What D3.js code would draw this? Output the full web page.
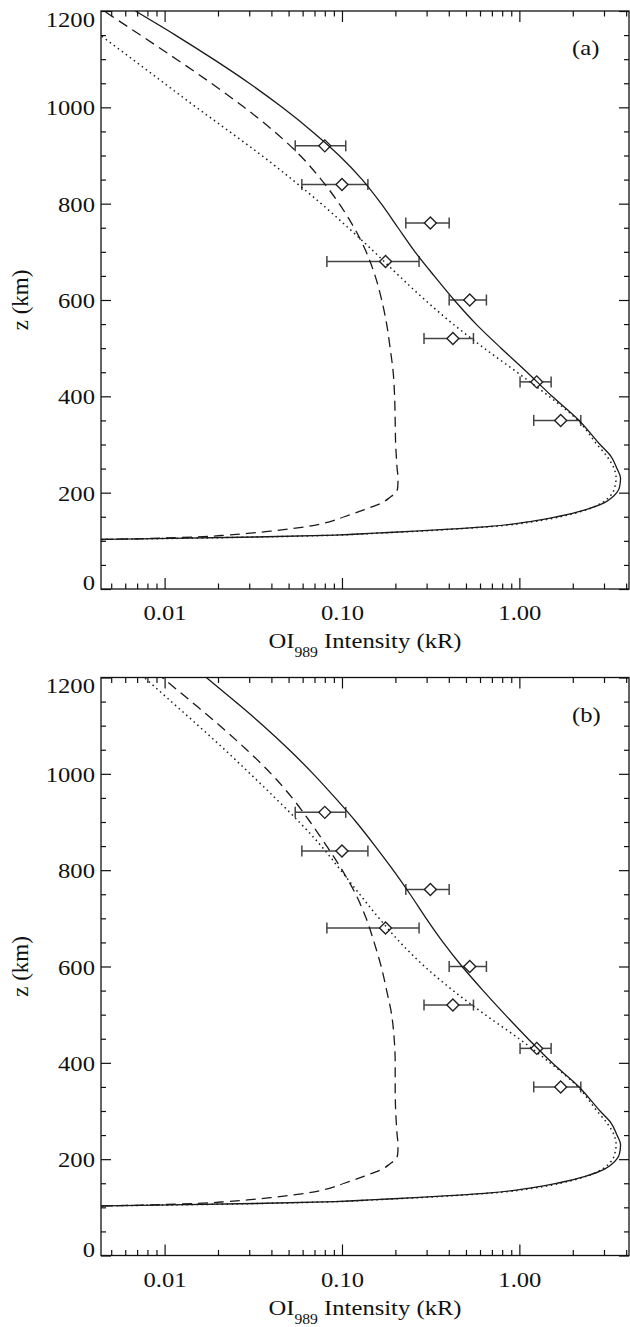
<!DOCTYPE html>
<html>
<head>
<meta charset="utf-8">
<script src="https://cdn.jsdelivr.net/npm/d3@7"></script>
<style>
  body { margin: 0; background: #fff; }
  svg { display: block; }
</style>
</head>
<body>
<svg id="chart" width="630" height="1327"></svg>
<script>
// Altitude grid (km) shared by all model profiles
const altitudes = [102, 103, 105, 108, 112, 116, 120, 125, 130, 140, 150,
  165, 180, 190, 200, 210, 230, 250, 275, 300, 350,
  400, 450, 500, 550, 600, 650, 700, 750, 800, 850,
  900, 950, 1000, 1050, 1100, 1150, 1200];

// Panel (a) model intensities (kR)
const solidA = [0.0032, 0.0044, 0.0108, 0.0324, 0.0916, 0.154, 0.258, 0.434, 0.684, 1.149, 1.631,
  2.376, 3.04, 3.33, 3.54, 3.66, 3.72, 3.55, 3.29, 2.85, 2.17,
  1.53, 1.105, 0.789, 0.570, 0.429, 0.331, 0.258, 0.207, 0.1663, 0.1300,
  0.0964, 0.0679, 0.0460, 0.0300, 0.01882, 0.0115, 0.00684];
const dashedA = [0.0036, 0.0048, 0.0083, 0.0150, 0.0225, 0.0305, 0.0394, 0.0515, 0.0645, 0.0858, 0.103,
  0.134, 0.170, 0.186, 0.201, 0.206, 0.207, 0.2046, 0.2025, 0.2007, 0.1995,
  0.198, 0.1944, 0.1869, 0.1786, 0.1674, 0.1538, 0.1369, 0.1171, 0.0964, 0.0764,
  0.0581, 0.0415, 0.0281, 0.01833, 0.01164, 0.0073, 0.00455];
const dottedA = [0.0034, 0.0046, 0.0112, 0.0342, 0.0964, 0.162, 0.272, 0.457, 0.720, 1.21, 1.70,
  2.41, 2.96, 3.19, 3.36, 3.44, 3.51, 3.42, 3.12, 2.74, 2.14,
  1.47, 0.970, 0.633, 0.423, 0.294, 0.210, 0.1518, 0.1084, 0.0764, 0.0524,
  0.0353, 0.02315, 0.01509, 0.00996, 0.00658, 0.00434, 0.0029];

// Panel (b) model intensities (kR)
const solidB = [0.0032, 0.0044, 0.0108, 0.0324, 0.0916, 0.154, 0.258, 0.434, 0.684, 1.149, 1.631,
  2.376, 3.04, 3.33, 3.54, 3.66, 3.72, 3.55, 3.29, 2.85, 2.17,
  1.53, 1.119, 0.831, 0.6245, 0.4755, 0.3717, 0.2981, 0.2422, 0.1944, 0.1538,
  0.1202, 0.0916, 0.0688, 0.0504, 0.0360, 0.0250, 0.01718];
const dashedB = [0.0036, 0.0048, 0.0083, 0.0150, 0.0225, 0.0305, 0.0394, 0.0515, 0.0645, 0.0858, 0.103,
  0.134, 0.170, 0.186, 0.201, 0.206, 0.207, 0.2046, 0.2025, 0.2007, 0.1995,
  0.1995, 0.1969, 0.1905, 0.1786, 0.1663, 0.1518, 0.1369, 0.1195, 0.1003, 0.0820,
  0.0662, 0.0524, 0.0399, 0.0290, 0.0205, 0.01414, 0.0097];
const dottedB = [0.0034, 0.0046, 0.0112, 0.0342, 0.0964, 0.162, 0.272, 0.457, 0.720, 1.21, 1.70,
  2.41, 2.96, 3.19, 3.36, 3.44, 3.51, 3.42, 3.12, 2.74, 2.14,
  1.49, 0.996, 0.641, 0.423, 0.2923, 0.2128, 0.162, 0.1258, 0.0983, 0.0764,
  0.0574, 0.0420, 0.0304, 0.02184, 0.01549, 0.01091, 0.00769];

// Measured brightness with horizontal error bars
const obsAltitude  = [920, 840, 760, 680, 600, 520, 430, 350];
const obsIntensity = [0.080, 0.100, 0.315, 0.176, 0.525, 0.422, 1.253, 1.71];
const obsLow       = [0.0545, 0.0594, 0.229, 0.0822, 0.402, 0.290, 1.009, 1.205];
const obsHigh      = [0.105, 0.140, 0.402, 0.272, 0.652, 0.551, 1.51, 2.22];

// Axis ticks
const xMajorTicks = [0.01, 0.1, 1];
const xTickLabels = ["0.01", "0.10", "1.00"];
const xMinorTicks = [0.005, 0.006, 0.007, 0.008, 0.009,
  0.02, 0.03, 0.04, 0.05, 0.06, 0.07, 0.08, 0.09,
  0.2, 0.3, 0.4, 0.5, 0.6, 0.7, 0.8, 0.9, 2, 3, 4];
const yMajorTicks = [0, 200, 400, 600, 800, 1000, 1200];
const yMinorTicks = [50, 100, 150, 250, 300, 350, 450, 500, 550, 650, 700, 750,
  850, 900, 950, 1050, 1100, 1150];
const panelLabels = ["(a)", "(b)"];

const serif = "'Liberation Serif', 'Times New Roman', Times, serif";
const ink = "#111";
const stretch = "scale(1.12,1)";

const svg = d3.select("#chart");
const x = d3.scaleLog().domain([0.00438, 4.15]).range([101, 629]);
const [xL, xR] = x.range();

const boxes = [{ top: 11, bottom: 589 }, { top: 677.5, bottom: 1255.5 }];
const panelCurves = [
  { dotted: dottedA, dashed: dashedA, solid: solidA },
  { dotted: dottedB, dashed: dashedB, solid: solidB }
];
const dashes = { solid: null, dashed: "10,6", dotted: "1.5,3.5" };

const defs = svg.append("defs");

boxes.forEach((box, pi) => {
  const y = d3.scaleLinear().domain([0, 1200]).range([box.bottom, box.top]);
  const g = svg.append("g");

  defs.append("clipPath").attr("id", "plotClip" + pi)
    .append("rect")
    .attr("x", xL).attr("y", box.top)
    .attr("width", xR - xL).attr("height", box.bottom - box.top);

  // Error bars and diamond markers
  const obs = g.append("g");
  obsAltitude.forEach((z, i) => {
    const yy = y(z);
    obs.append("line")
      .attr("x1", x(obsLow[i])).attr("x2", x(obsHigh[i]))
      .attr("y1", yy).attr("y2", yy)
      .attr("stroke", "#444").attr("stroke-width", 1.5);
    [obsLow[i], obsHigh[i]].forEach(v => {
      obs.append("line")
        .attr("x1", x(v)).attr("x2", x(v))
        .attr("y1", yy - 5.5).attr("y2", yy + 5.5)
        .attr("stroke", "#444").attr("stroke-width", 1.5);
    });
    obs.append("path")
      .attr("d", d3.symbol(d3.symbolSquare, 72)())
      .attr("transform", `translate(${x(obsIntensity[i])},${yy}) rotate(45)`)
      .attr("fill", "#fff").attr("stroke", "#222").attr("stroke-width", 1.4);
  });

  // Model profiles
  const plot = g.append("g").attr("clip-path", `url(#plotClip${pi})`);
  const line = d3.line()
    .x(d => x(d[1]))
    .y(d => y(d[0]))
    .curve(d3.curveMonotoneY);
  Object.keys(dashes).forEach(key => {
    const pts = altitudes.map((z, i) => [z, panelCurves[pi][key][i]]);
    plot.append("path")
      .attr("d", line(pts))
      .attr("fill", "none")
      .attr("stroke", "#1a1a1a")
      .attr("stroke-width", key === "dotted" ? 1.5 : 1.3)
      .attr("stroke-dasharray", dashes[key]);
  });

  // Axes: inward major and minor ticks on all four sides
  const axes = g.append("g").attr("color", ink)
    .attr("font-family", serif).attr("font-size", 22);

  const addAxis = (axis, tx, ty) => {
    const a = axes.append("g").attr("transform", `translate(${tx},${ty})`).call(axis);
    a.select(".domain").remove();
    a.selectAll("line").attr("stroke-width", 1.2);
    a.attr("font-size", 22).attr("font-family", serif);
    return a;
  };

  const bottomAxis = addAxis(d3.axisBottom(x).tickValues(xMajorTicks)
    .tickFormat((d, i) => xTickLabels[i]).tickSizeInner(-11).tickSizeOuter(0), 0, box.bottom);
  bottomAxis.selectAll("text")
    .attr("y", null).attr("dy", null)
    .attr("transform", `translate(0,31) ${stretch}`);
  addAxis(d3.axisBottom(x).tickValues(xMinorTicks).tickFormat("")
    .tickSizeInner(-5.5).tickSizeOuter(0), 0, box.bottom);
  addAxis(d3.axisTop(x).tickValues(xMajorTicks).tickFormat("")
    .tickSizeInner(-11).tickSizeOuter(0), 0, box.top);
  addAxis(d3.axisTop(x).tickValues(xMinorTicks).tickFormat("")
    .tickSizeInner(-5.5).tickSizeOuter(0), 0, box.top);

  const leftAxis = addAxis(d3.axisLeft(y).tickValues(yMajorTicks)
    .tickFormat(d => String(d)).tickSizeInner(-10).tickSizeOuter(0), xL, 0);
  leftAxis.selectAll("text")
    .attr("x", null).attr("dy", null)
    .attr("transform", d => {
      const shift = d === 0 ? 0.5 : d === 1200 ? 15 : 7.5;
      return `translate(-6,${shift}) ${stretch}`;
    });
  addAxis(d3.axisLeft(y).tickValues(yMinorTicks).tickFormat("")
    .tickSizeInner(-5).tickSizeOuter(0), xL, 0);
  addAxis(d3.axisRight(y).tickValues(yMajorTicks).tickFormat("")
    .tickSizeInner(-10).tickSizeOuter(0), xR, 0);
  addAxis(d3.axisRight(y).tickValues(yMinorTicks).tickFormat("")
    .tickSizeInner(-5).tickSizeOuter(0), xR, 0);

  // Frame
  g.append("rect")
    .attr("x", xL).attr("y", box.top)
    .attr("width", xR - xL).attr("height", box.bottom - box.top)
    .attr("fill", "none").attr("stroke", ink).attr("stroke-width", 1.3);

  // Panel tag
  g.append("text")
    .attr("transform", `translate(572,${box.top + 44}) ${stretch}`)
    .attr("font-family", serif).attr("font-size", 22).attr("fill", ink)
    .text(panelLabels[pi]);

  // X title with subscript
  const xt = g.append("text")
    .attr("transform", `translate(${(xL + xR) / 2},${box.bottom + 59}) ${stretch}`)
    .attr("text-anchor", "middle")
    .attr("font-family", serif).attr("font-size", 22).attr("fill", ink);
  xt.append("tspan").text("OI");
  xt.append("tspan").attr("font-size", 14).attr("dy", 9).text("989");
  xt.append("tspan").attr("dy", -9).text(" Intensity (kR)");

  // Y title
  g.append("text")
    .attr("transform", `translate(28,${(box.top + box.bottom) / 2}) rotate(-90)`)
    .attr("text-anchor", "middle")
    .attr("font-family", serif).attr("font-size", 23).attr("fill", ink)
    .text("z (km)");
});
</script>
</body>
</html>
